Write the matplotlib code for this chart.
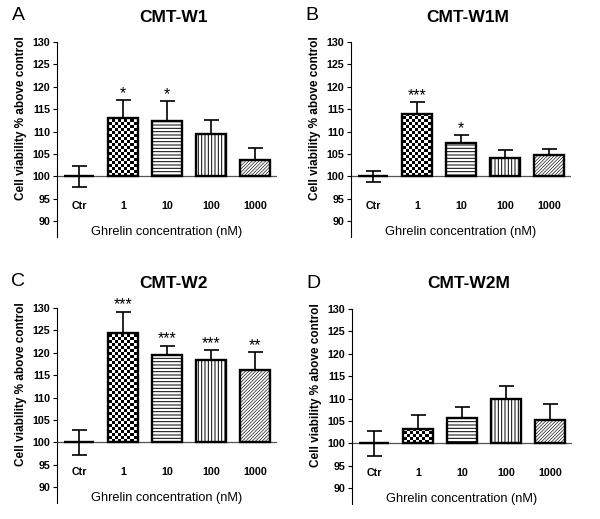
import numpy as np
import matplotlib
matplotlib.use('Agg')
import matplotlib.pyplot as plt

plt.rcParams['font.family'] = ['Liberation Sans', 'DejaVu Sans']
plt.rcParams['hatch.linewidth'] = 0.7

categories = ['Ctr', '1', '10', '100', '1000']
titles = ['CMT-W1', 'CMT-W1M', 'CMT-W2', 'CMT-W2M']
letters = ['A', 'B', 'C', 'D']

# mean viability (% of control) and SEM
w1_mean = [100, 113.1, 112.4, 109.4, 103.6]
w1_sem = [2.3, 4.0, 4.4, 3.2, 2.8]
w1_stars = ['', '*', '*', '', '']

w1m_mean = [100, 113.9, 107.4, 104.2, 104.7]
w1m_sem = [1.3, 2.7, 1.9, 1.6, 1.5]
w1m_stars = ['', '***', '*', '', '']

w2_mean = [100, 124.4, 119.5, 118.3, 116.2]
w2_sem = [2.7, 4.8, 2.1, 2.3, 4.0]
w2_stars = ['', '***', '***', '***', '**']

w2m_mean = [100, 103.3, 105.6, 109.9, 105.3]
w2m_sem = [2.7, 3.1, 2.6, 3.0, 3.4]
w2m_stars = ['', '', '', '', '']

means = [w1_mean, w1m_mean, w2_mean, w2m_mean]
sems = [w1_sem, w1m_sem, w2_sem, w2m_sem]
stars = [w1_stars, w1m_stars, w2_stars, w2m_stars]

# panel placement in pixels: (left of y axis, y of the 130 tick)
W, H = 600, 519
panel_px = [(57, 42), (351, 42), (57, 308), (352, 309)]
xpx, ypx = 220, 195  # axes size in px

hatches = [None, None, '-----', '|||||', '//////////']

fig = plt.figure(figsize=(6, 5.19), dpi=100)

for i in range(4):
    left, top = panel_px[i]
    ax = fig.add_axes([left / W, 1 - (top + ypx) / H, xpx / W, ypx / H])
    x = np.arange(len(categories))
    m = np.array(means[i])
    s = np.array(sems[i])

    bars = ax.bar(x, m - 100, bottom=100, width=0.67, facecolor='white',
                  edgecolor='black', linewidth=1.7, zorder=2)
    for b, h in zip(bars, hatches):
        if h:
            b.set_hatch(h)
    if hasattr(bars[4], 'set_hatch_linewidth'):
        bars[4].set_hatch_linewidth(0.45)
    # checkerboard fill for the 1 nM bar
    bars[1].set_facecolor('none')
    iy, ix = np.indices((65, 72))
    checker = (iy + ix) % 2
    im = ax.imshow(checker, cmap='gray', extent=[-0.5, 4.5, 86.5, 130],
                   aspect='auto', interpolation='nearest', zorder=1)
    im.set_clip_path(bars[1])

    # error bars: up only for treatments, both ways for control
    lower = np.where(x == 0, s, 0)
    ax.errorbar(x, m, yerr=[lower, s], fmt='none', ecolor='black',
                elinewidth=1.2, capsize=5.4, capthick=1.2, zorder=3)

    for xi, top_val, st in zip(x, m + s, stars[i]):
        if st:
            ax.annotate(st, (xi, top_val), xytext=(0, 1.5),
                        textcoords='offset points', ha='center',
                        va='baseline', fontsize=11.5)

    ax.axhline(100, color='#555555', linewidth=0.9, zorder=1.5)

    for xi, c in zip(x, categories):
        ax.text(xi, 93.5, c, ha='center', va='center', fontsize=7.7,
                fontweight='bold')
    ax.text(2, 87.6, 'Ghrelin concentration (nM)', ha='center', va='center',
            fontsize=9.2)

    ax.set_xlim(-0.5, 4.5)
    ax.set_ylim(86.5, 130)
    ax.set_yticks(np.arange(90, 131, 5))
    ax.set_xticks([])
    for lab in ax.get_yticklabels():
        lab.set_fontweight('bold')
    ax.tick_params(axis='y', labelsize=7.7, length=3, width=0.8, pad=2)
    for sp in ['top', 'right', 'bottom']:
        ax.spines[sp].set_visible(False)
    ax.spines['left'].set_linewidth(0.8)

    ax.set_ylabel('Cell viability % above control', fontsize=8.5,
                  fontweight='bold')
    ax.yaxis.set_label_coords(-0.135, 0.61)

    fig.text((left + 117) / W, 1 - (top - 25) / H, titles[i], ha='center',
             va='center', fontsize=12.5, fontweight='bold')
    fig.text((left - 39) / W, 1 - (top - 26) / H, letters[i], ha='center',
             va='center', fontsize=14)

fig.savefig('out.png', dpi=100)
